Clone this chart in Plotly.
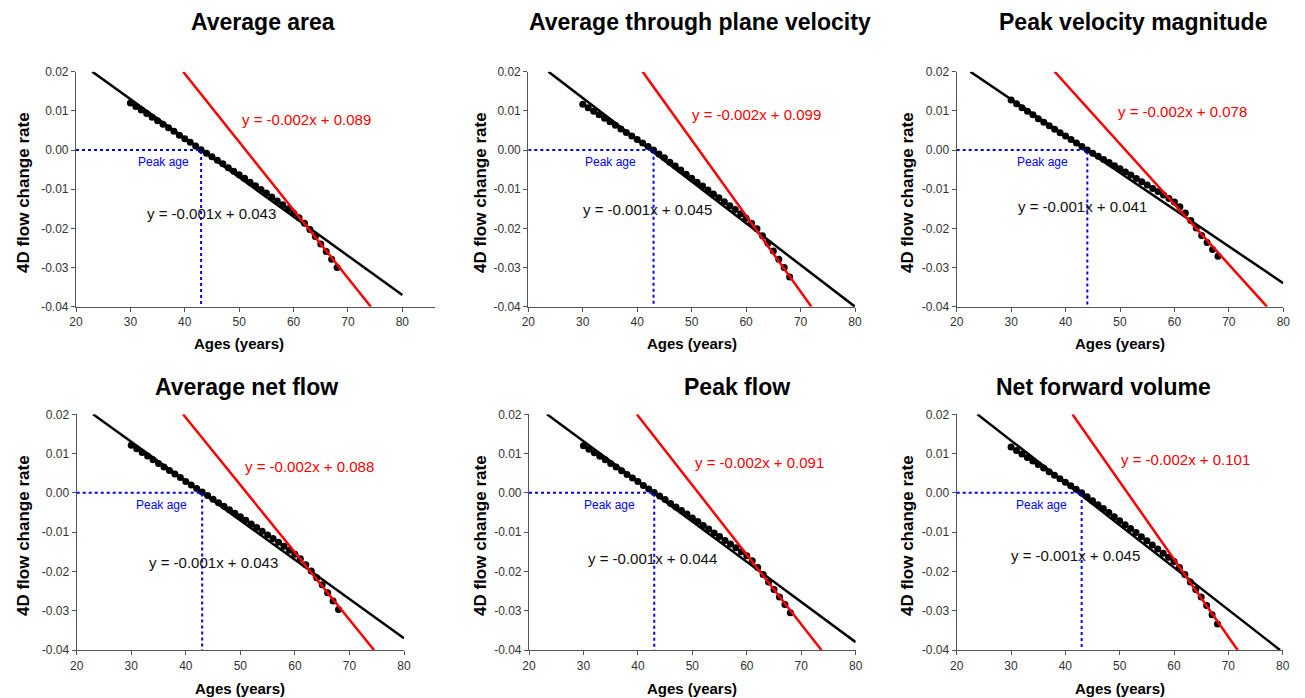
import plotly.graph_objects as go
from plotly.subplots import make_subplots

# ---------------- data ----------------
titles = ["Average area", "Average through plane velocity", "Peak velocity magnitude",
          "Average net flow", "Peak flow", "Net forward volume"]

ages = [30, 31, 32, 33, 34, 35, 36, 37, 38, 39, 40, 41, 42, 43, 44, 45, 46, 47, 48, 49,
        50, 51, 52, 53, 54, 55, 56, 57, 58, 59, 60, 61, 62, 63, 64, 65, 66, 67, 68]

avg_area = [0.0120, 0.0111, 0.0102, 0.0093, 0.0084, 0.0075, 0.0066, 0.0057, 0.0048, 0.0038,
            0.0029, 0.0020, 0.0010, 0.0001, -0.0008, -0.0017, -0.0026, -0.0035, -0.0045, -0.0054,
            -0.0063, -0.0072, -0.0082, -0.0091, -0.0101, -0.0110, -0.0120, -0.0130, -0.0140, -0.0150,
            -0.0161, -0.0173, -0.0187, -0.0203, -0.0221, -0.0240, -0.0259, -0.0279, -0.0300]

avg_tp_velocity = [0.0117, 0.0108, 0.0099, 0.0090, 0.0081, 0.0072, 0.0063, 0.0054, 0.0045, 0.0036,
                   0.0027, 0.0018, 0.0009, 0.0000, -0.0010, -0.0020, -0.0031, -0.0041, -0.0051, -0.0062,
                   -0.0072, -0.0082, -0.0092, -0.0102, -0.0112, -0.0122, -0.0132, -0.0142, -0.0152, -0.0163,
                   -0.0174, -0.0187, -0.0201, -0.0219, -0.0238, -0.0258, -0.0279, -0.0300, -0.0324]

peak_vel_mag = [0.0128, 0.0118, 0.0108, 0.0099, 0.0090, 0.0080, 0.0071, 0.0062, 0.0053, 0.0044,
                0.0036, 0.0027, 0.0018, 0.0009, 0.0000, -0.0008, -0.0016, -0.0024, -0.0032, -0.0040,
                -0.0048, -0.0056, -0.0064, -0.0073, -0.0081, -0.0089, -0.0098, -0.0106, -0.0115, -0.0124,
                -0.0133, -0.0145, -0.0161, -0.0180, -0.0199, -0.0218, -0.0236, -0.0254, -0.0271]

avg_net_flow = [0.0121, 0.0112, 0.0103, 0.0094, 0.0084, 0.0075, 0.0066, 0.0057, 0.0048, 0.0039,
                0.0029, 0.0020, 0.0011, 0.0002, -0.0007, -0.0016, -0.0025, -0.0034, -0.0043, -0.0052,
                -0.0061, -0.0070, -0.0079, -0.0088, -0.0098, -0.0107, -0.0116, -0.0126, -0.0136, -0.0146,
                -0.0156, -0.0168, -0.0183, -0.0199, -0.0216, -0.0234, -0.0254, -0.0275, -0.0297]

peak_flow = [0.0120, 0.0111, 0.0102, 0.0093, 0.0084, 0.0075, 0.0066, 0.0056, 0.0047, 0.0038,
             0.0029, 0.0019, 0.0010, 0.0001, -0.0008, -0.0017, -0.0027, -0.0036, -0.0045, -0.0054,
             -0.0064, -0.0073, -0.0083, -0.0092, -0.0102, -0.0111, -0.0121, -0.0130, -0.0140, -0.0150,
             -0.0160, -0.0173, -0.0190, -0.0208, -0.0227, -0.0246, -0.0265, -0.0284, -0.0305]

net_fwd_volume = [0.0117, 0.0108, 0.0099, 0.0090, 0.0081, 0.0072, 0.0063, 0.0054, 0.0045, 0.0036,
                  0.0027, 0.0018, 0.0009, 0.0000, -0.0010, -0.0020, -0.0030, -0.0040, -0.0050, -0.0061,
                  -0.0071, -0.0081, -0.0091, -0.0101, -0.0112, -0.0122, -0.0133, -0.0143, -0.0154, -0.0164,
                  -0.0175, -0.0190, -0.0208, -0.0227, -0.0246, -0.0265, -0.0287, -0.0310, -0.0334]

series = [avg_area, avg_tp_velocity, peak_vel_mag, avg_net_flow, peak_flow, net_fwd_volume]

# fitted lines (start/end points as drawn)
black_fit_x = [[23.0, 80.0], [23.7, 80.0], [22.5, 80.0], [23.0, 80.0], [23.3, 80.0], [23.8, 79.5]]
black_fit_y = [[0.020, -0.037], [0.020, -0.040], [0.020, -0.034], [0.020, -0.037], [0.020, -0.038], [0.020, -0.040]]
red_fit_x = [[39.7, 74.2], [41.0, 72.0], [38.0, 77.0], [39.5, 74.5], [39.8, 73.7], [41.3, 71.7]]
red_fit_y = [[0.020, -0.040], [0.020, -0.040], [0.020, -0.040], [0.020, -0.040], [0.020, -0.040], [0.020, -0.040]]

peak_ages = [43, 43, 44, 43, 43, 43]

red_eqs = ["y = -0.002x + 0.089", "y = -0.002x + 0.099", "y = -0.002x + 0.078",
           "y = -0.002x + 0.088", "y = -0.002x + 0.091", "y = -0.002x + 0.101"]
black_eqs = ["y = -0.001x + 0.043", "y = -0.001x + 0.045", "y = -0.001x + 0.041",
             "y = -0.001x + 0.043", "y = -0.001x + 0.044", "y = -0.001x + 0.045"]

x_ticks = [20, 30, 40, 50, 60, 70, 80]
y_ticks = [0.02, 0.01, 0.00, -0.01, -0.02, -0.03, -0.04]

# ---------------- layout helpers (pixel geometry) ----------------
W, H = 1305, 698
FONT = "Arial, Liberation Sans, sans-serif"

# plot-area pixel boxes: left, right, top, bottom ; x range max
boxes = [
    (76.0, 435.0, 71.7, 306.7, 86.0),
    (528.3, 855.0, 71.7, 306.7, 80.0),
    (956.7, 1283.3, 71.7, 306.7, 80.0),
    (76.7, 404.0, 414.3, 650.0, 80.0),
    (529.0, 855.7, 414.3, 650.0, 80.0),
    (956.7, 1282.7, 414.3, 650.0, 80.0),
]
# text placements (data coords)
red_pos = [(50.1, 0.0079), (49.7, 0.0092), (49.3, 0.0098), (50.5, 0.0067), (50.2, 0.0078), (49.9, 0.0084)]
blk_pos = [(32.7, -0.0162), (29.6, -0.0151), (30.9, -0.0143), (32.8, -0.0177), (30.4, -0.0167), (29.7, -0.0159)]
peak_pos = [(36.1, -0.0031), (35.1, -0.0031), (35.8, -0.0031), (35.6, -0.0031), (34.7, -0.0031), (35.6, -0.0031)]
title_px = [(263, 22), (700, 22), (1133, 22), (246, 387), (737, 387), (1103, 387)]
ytitle_px = [23, 480, 907, 23, 480, 907]
ytitle_cy = [193, 193, 193, 536, 536, 536]
xtitle_cx = [239, 692, 1120, 240, 692, 1120]
xtitle_y = [343, 343, 343, 688, 688, 688]

fig = make_subplots(rows=2, cols=3)

annotations = []
for i in range(6):
    r, c = i // 3 + 1, i % 3 + 1
    left, right, top, bottom, xmax = boxes[i]
    ys = series[i]
    fig.add_trace(go.Scatter(x=black_fit_x[i], y=black_fit_y[i], mode="lines",
                             line=dict(color="black", width=2.5), showlegend=False,
                             hoverinfo="skip"), row=r, col=c)
    fig.add_trace(go.Scatter(x=ages, y=ys, mode="markers",
                             marker=dict(color="black", size=7), showlegend=False), row=r, col=c)
    fig.add_trace(go.Scatter(x=red_fit_x[i], y=red_fit_y[i], mode="lines",
                             line=dict(color="#ff0000", width=2.5), showlegend=False,
                             hoverinfo="skip"), row=r, col=c)
    pa = peak_ages[i]
    fig.add_trace(go.Scatter(x=[20, pa, pa], y=[0, 0, -0.04], mode="lines",
                             line=dict(color="#0000ff", width=2, dash="dot"), showlegend=False,
                             hoverinfo="skip"), row=r, col=c)

    xa = "xaxis" if i == 0 else f"xaxis{i+1}"
    ya = "yaxis" if i == 0 else f"yaxis{i+1}"
    xref = "x" if i == 0 else f"x{i+1}"
    yref = "y" if i == 0 else f"y{i+1}"
    fig.layout[xa].update(domain=[left / W, right / W], range=[20, xmax], automargin=False,
                          tickvals=x_ticks, ticktext=[str(v) for v in x_ticks],
                          showgrid=False, zeroline=False, showline=True, linecolor="#555",
                          linewidth=1.2, ticks="outside", ticklen=4, tickcolor="#555",
                          tickfont=dict(family=FONT, size=12, color="#333"))
    fig.layout[ya].update(domain=[(H - bottom) / H, (H - top) / H], range=[-0.04, 0.02], automargin=False,
                          tickvals=y_ticks, ticktext=[f"{v:.2f}" for v in y_ticks],
                          showgrid=False, zeroline=False, showline=True, linecolor="#555",
                          linewidth=1.2, ticks="outside", ticklen=4, tickcolor="#555",
                          tickfont=dict(family=FONT, size=12, color="#333"))

    rx, ry = red_pos[i]
    annotations.append(dict(x=rx, y=ry, xref=xref, yref=yref, text=red_eqs[i], showarrow=False,
                            xanchor="left", yanchor="middle",
                            font=dict(family=FONT, size=15, color="#ff0000")))
    bx, by = blk_pos[i]
    annotations.append(dict(x=bx, y=by, xref=xref, yref=yref, text=black_eqs[i], showarrow=False,
                            xanchor="left", yanchor="middle",
                            font=dict(family=FONT, size=15, color="#111")))
    px_, py_ = peak_pos[i]
    annotations.append(dict(x=px_, y=py_, xref=xref, yref=yref, text="Peak age", showarrow=False,
                            xanchor="center", yanchor="middle",
                            font=dict(family=FONT, size=12, color="#0000ff")))
    tx, ty = title_px[i]
    annotations.append(dict(x=tx / W, y=(H - ty) / H, xref="paper", yref="paper", text=f"<b>{titles[i]}</b>",
                            showarrow=False, xanchor="center", yanchor="middle",
                            font=dict(family=FONT, size=23, color="black")))
    annotations.append(dict(x=ytitle_px[i] / W, y=(H - ytitle_cy[i]) / H, xref="paper", yref="paper",
                            text="<b>4D flow change rate</b>", textangle=-90, showarrow=False,
                            xanchor="center", yanchor="middle",
                            font=dict(family=FONT, size=17, color="black")))
    annotations.append(dict(x=xtitle_cx[i] / W, y=(H - xtitle_y[i]) / H, xref="paper", yref="paper",
                            text="<b>Ages (years)</b>", showarrow=False, xanchor="center", yanchor="middle",
                            font=dict(family=FONT, size=15, color="black")))

fig.update_layout(width=W, height=H, margin=dict(l=0, r=0, t=0, b=0, autoexpand=False),
                  paper_bgcolor="white", plot_bgcolor="white", annotations=annotations,
                  showlegend=False)

fig.write_html("out.html")
